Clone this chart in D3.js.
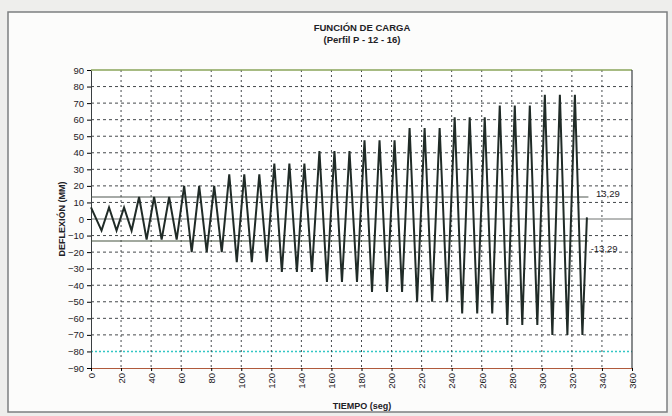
<!DOCTYPE html>
<html>
<head>
<meta charset="utf-8">
<script src="https://cdn.jsdelivr.net/npm/d3@7"></script>
<style>
  body { margin: 0; background: #eeeeec; }
  text { font-family: "Liberation Sans", Arial, sans-serif; fill: #1e2226; }
</style>
</head>
<body>
<svg id="chart" width="672" height="416"></svg>
<script>
const svg = d3.select("#chart");

// deflexion vs time (peaks and troughs)
const tiempo = [0, 7, 12, 17, 22, 27, 32, 37, 42, 47, 52, 57, 62, 67, 72, 77, 82, 87,
    92, 97, 102, 107, 112, 117, 122, 127, 132, 137, 142, 147, 152, 157, 162, 167,
    172, 177, 182, 187, 192, 197, 202, 207, 212, 217, 222, 227, 232, 237, 242, 247,
    252, 257, 262, 267, 272, 277, 282, 287, 292, 297, 302, 307, 312, 317, 322, 327, 330];
const deflexion = [7, -7, 7, -7, 7, -7, 13.3, -12.5, 13.3, -12.5, 13.3, -12.5,
    20, -20, 20, -20, 20, -20, 27, -26, 27, -26, 27, -26,
    33.5, -32, 33.5, -32, 33.5, -32, 41, -38, 41, -38, 41, -38,
    47.5, -44, 47.5, -44, 47.5, -44, 55, -50, 55, -50, 55, -50,
    61.5, -57, 61.5, -57, 61.5, -57, 68.5, -64, 68.5, -64, 68.5, -64,
    75, -70, 75, -70, 75, -70, 1];
const limites = [13.29, -13.29];
const limiteLabels = ["13,29", "-13,29"];
const yTicks = d3.range(-90, 91, 10);
const xTicks = d3.range(0, 361, 20);

let xscale = d3.scaleLinear()
            .domain([0, 360])
            .range([91, 632]);

let yscale = d3.scaleLinear()
            .domain([-90, 90])
            .range([368, 70]);

const LINE_COLOR = "#202b27";
const GRID_COLOR = "#45494c";

function main() {
    drawFrame();
    drawGrid();
    drawAxes();
    drawLimits();
    drawSeries();
    drawTitles();
}

function drawFrame() {
    svg.append("rect")
        .attr("x", 8).attr("y", 12)
        .attr("width", 659).attr("height", 400)
        .attr("fill", "#fcfcfb")
        .attr("stroke", "#7c7f80")
        .attr("stroke-width", 1.5);
    svg.append("rect")
        .attr("x", xscale(0)).attr("y", yscale(90))
        .attr("width", xscale(360) - xscale(0))
        .attr("height", yscale(-90) - yscale(90))
        .attr("fill", "#ffffff");
}

function drawGrid() {
    svg.selectAll(".hgrid").data(yTicks.filter(d => d > -90 && d < 90 && d != 0)).join("line")
        .attr("class", "hgrid")
        .attr("x1", xscale(0)).attr("x2", xscale(360))
        .attr("y1", d => yscale(d)).attr("y2", d => yscale(d))
        .attr("stroke", d => d == -80 ? "#33c6c4" : GRID_COLOR)
        .attr("stroke-width", d => d == -80 ? 1.6 : 1)
        .attr("stroke-dasharray", d => d == -80 ? "2,2" : "3,3");

    svg.selectAll(".vgrid").data(xTicks.filter(d => d > 0 && d < 360)).join("line")
        .attr("class", "vgrid")
        .attr("x1", d => xscale(d)).attr("x2", d => xscale(d))
        .attr("y1", yscale(90)).attr("y2", yscale(-90))
        .attr("stroke", GRID_COLOR)
        .attr("stroke-width", 1)
        .attr("stroke-dasharray", "2,3");

    // zero line
    svg.append("line")
        .attr("x1", xscale(0)).attr("x2", xscale(360))
        .attr("y1", yscale(0)).attr("y2", yscale(0))
        .attr("stroke", "#6e7370").attr("stroke-width", 1);
}

function drawAxes() {
    const yAxis = d3.axisLeft(yscale).tickValues(yTicks).tickSize(4).tickPadding(3);
    const ya = svg.append("g").attr("transform", `translate(${xscale(0)},0)`).call(yAxis);
    ya.select(".domain").attr("stroke", "#3a3f42");
    ya.selectAll("text").style("font-size", "9.5px").attr("fill", "#1e2226");

    const xAxis = d3.axisBottom(xscale).tickValues(xTicks).tickSize(3);
    const xa = svg.append("g").attr("transform", `translate(0,${yscale(-90)})`).call(xAxis);
    xa.select(".domain").attr("stroke", "#b05a3c");
    xa.selectAll("text")
        .style("font-size", "9.5px")
        .attr("fill", "#23285a")
        .attr("transform", "rotate(-90)")
        .attr("text-anchor", "end")
        .attr("x", -5).attr("y", 0).attr("dy", "0.35em");

    // plot border top / right
    svg.append("line")
        .attr("x1", xscale(0)).attr("x2", xscale(360))
        .attr("y1", yscale(90)).attr("y2", yscale(90))
        .attr("stroke", "#8aa45a").attr("stroke-width", 1.3);
    svg.append("line")
        .attr("x1", xscale(360)).attr("x2", xscale(360))
        .attr("y1", yscale(90)).attr("y2", yscale(-90))
        .attr("stroke", "#3a3f42").attr("stroke-width", 1.2);
}

function drawLimits() {
    svg.selectAll(".limit").data(limites).join("line")
        .attr("class", "limit")
        .attr("x1", xscale(0)).attr("x2", xscale(331))
        .attr("y1", d => yscale(d)).attr("y2", d => yscale(d))
        .attr("stroke", (d, i) => i == 0 ? "#4f5650" : "#465441")
        .attr("stroke-width", 1.2);

    svg.selectAll(".limitLabel").data(limites).join("text")
        .attr("class", "limitLabel")
        .attr("x", (d, i) => i == 0 ? xscale(336) : xscale(332.5))
        .attr("y", (d, i) => yscale(d) + (i == 0 ? 0 : 11))
        .style("font-size", "9.5px")
        .text((d, i) => limiteLabels[i]);
}

function drawSeries() {
    const pts = d3.zip(tiempo, deflexion);
    const line = d3.line()
        .x(d => xscale(d[0]))
        .y(d => yscale(d[1]));
    svg.append("path")
        .datum(pts)
        .attr("d", line)
        .attr("fill", "none")
        .attr("stroke", LINE_COLOR)
        .attr("stroke-width", 2)
        .attr("stroke-linejoin", "miter");
}

function drawTitles() {
    svg.append("text")
        .attr("x", 362).attr("y", 31)
        .attr("text-anchor", "middle")
        .style("font-size", "9.5px").style("font-weight", "bold")
        .text("FUNCIÓN DE CARGA");
    svg.append("text")
        .attr("x", 362).attr("y", 43)
        .attr("text-anchor", "middle")
        .style("font-size", "9.5px").style("font-weight", "bold")
        .text("(Perfil P - 12 - 16)");
    svg.append("text")
        .attr("x", 362).attr("y", 409)
        .attr("text-anchor", "middle")
        .style("font-size", "9px").style("font-weight", "bold")
        .text("TIEMPO (seg)");
    svg.append("text")
        .attr("transform", "translate(65,219) rotate(-90)")
        .attr("text-anchor", "middle")
        .style("font-size", "9px").style("font-weight", "bold")
        .text("DEFLEXIÓN (MM)");
}

main();
</script>
</body>
</html>
